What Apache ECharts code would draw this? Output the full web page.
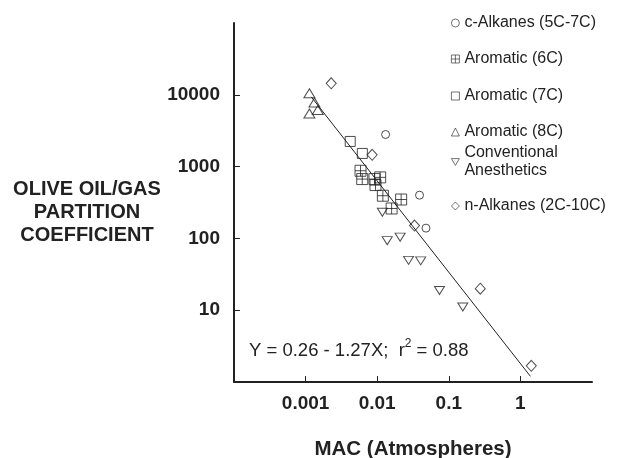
<!DOCTYPE html>
<html>
<head>
<meta charset="utf-8">
<script src="https://cdn.jsdelivr.net/npm/echarts@6/dist/echarts.min.js"></script>
<style>
  html, body { margin: 0; padding: 0; background: #fff; }
  #chart { width: 642px; height: 458px; }
</style>
</head>
<body>
<div id="chart"></div>
<script>
// data: [MAC (atm), olive oil/gas partition coefficient]
var cAlkanes = [[0.0131, 2800], [0.039, 400], [0.048, 139]]
var aromatic6C = [[0.00585, 875], [0.00618, 670], [0.00916, 670], [0.0110, 708],
  [0.00946, 553], [0.0120, 393], [0.0216, 348], [0.0159, 261]]
var aromatic7C = [[0.0042, 2240], [0.0062, 1525]]
var aromatic8C = [[0.00113, 10500], [0.00133, 7800], [0.00148, 6150], [0.00113, 5500]]
var anesthetics = [[0.0118, 231], [0.0138, 93], [0.0209, 104], [0.0274, 49.5],
  [0.0405, 48.7], [0.0741, 18.8], [0.157, 11.1]]
var nAlkanes = [[0.00228, 14450], [0.0085, 1460], [0.0332, 151], [0.275, 19.9], [1.42, 1.68]]
// regression line end points
var fitLine = [[0.0012, 9360], [1.38, 1.2]]

var xTicks = [0.001, 0.01, 0.1, 1]
var xTickLabels = ['0.001', '0.01', '0.1', '1']
var yTicks = [10, 100, 1000, 10000]
var yTickLabels = ['10', '100', '1000', '10000']

var groupNames = ['c-Alkanes (5C-7C)', 'Aromatic (6C)', 'Aromatic (7C)', 'Aromatic (8C)',
  'Conventional\nAnesthetics', 'n-Alkanes (2C-10C)']

var ink = '#222'
var font = 'Liberation Sans, Arial, Helvetica, sans-serif'

function tickText (v, ticks, labels) {
  var i = ticks.findIndex(function (t) { return Math.abs(Math.log10(t) - Math.log10(v)) < 1e-6 })
  return i >= 0 ? labels[i] : ''
}

var symbols = [
  { symbol: 'circle', size: 8 },
  { symbol: 'path://M0,0H10V10H0Z M5,0V10 M0,5H10', size: 11 },
  { symbol: 'rect', size: 10 },
  { symbol: 'triangle', size: [11, 9] },
  { symbol: 'path://M0,0H10L5,8.5Z', size: [10, 8] },
  { symbol: 'diamond', size: [10, 11] }
]
var groups = [cAlkanes, aromatic6C, aromatic7C, aromatic8C, anesthetics, nAlkanes]

var series = groups.map(function (d, i) {
  return {
    name: groupNames[i],
    type: 'scatter',
    data: d,
    symbol: symbols[i].symbol,
    symbolSize: symbols[i].size,
    itemStyle: { color: 'rgba(255,255,255,0)', borderColor: ink, borderWidth: 1 },
    z: 3
  }
})
series.push({
  name: 'fit',
  type: 'line',
  data: fitLine,
  symbol: 'none',
  lineStyle: { color: ink, width: 1 },
  silent: true,
  z: 2
})

// one legend per entry so the uneven spacing of the figure can be kept
var legendTops = [14, 50, 87, 123, 144, 197]
var legends = groupNames.map(function (n, i) {
  return {
    data: [n],
    left: 451,
    top: legendTops[i],
    orient: 'vertical',
    padding: 0,
    itemWidth: 8,
    itemHeight: 8,
    selectedMode: false,
    itemStyle: { borderWidth: 0.8 },
    textStyle: { fontFamily: font, fontSize: 16, color: ink, lineHeight: 18, padding: [0, 0, 0, 0] }
  }
})

var myChart = echarts.init(document.getElementById('chart'))
myChart.setOption({
  backgroundColor: '#fff',
  animation: false,
  legend: legends,
  grid: { left: 234, right: 50, top: 23, bottom: 76, outerBoundsMode: 'none' },
  xAxis: {
    type: 'log',
    logBase: 10,
    min: 0.0001,
    max: 10,
    name: 'MAC (Atmospheres)',
    nameLocation: 'middle',
    nameGap: 57,
    nameTextStyle: { fontFamily: font, fontSize: 20.5, fontWeight: 'bold', color: ink },
    axisLine: { lineStyle: { color: ink, width: 2 } },
    axisTick: { inside: true, length: 6, lineStyle: { color: ink, width: 1 } },
    axisLabel: {
      showMinLabel: false,
      showMaxLabel: false,
      margin: 12,
      fontFamily: font,
      fontSize: 19,
      fontWeight: 'bold',
      color: ink,
      formatter: function (v) { return tickText(v, xTicks, xTickLabels) }
    },
    splitLine: { show: false }
  },
  yAxis: {
    type: 'log',
    logBase: 10,
    min: 1,
    max: 100000,
    axisLine: { show: true, lineStyle: { color: ink, width: 2 } },
    axisTick: { show: true, inside: true, length: 6, lineStyle: { color: ink, width: 1 } },
    axisLabel: {
      showMinLabel: false,
      showMaxLabel: false,
      margin: 14,
      fontFamily: font,
      fontSize: 19,
      fontWeight: 'bold',
      color: ink,
      formatter: function (v) { return tickText(v, yTicks, yTickLabels) }
    },
    splitLine: { show: false }
  },
  graphic: [
    {
      type: 'text',
      style: {
        x: 87,
        y: 212,
        text: 'OLIVE OIL/GAS\nPARTITION\nCOEFFICIENT',
        align: 'center',
        verticalAlign: 'middle',
        fontFamily: font,
        fontSize: 20,
        fontWeight: 'bold',
        lineHeight: 23,
        fill: ink
      }
    },
    {
      type: 'text',
      style: {
        x: 249,
        y: 351,
        text: 'Y = 0.26 - 1.27X;  r{sup|2} = 0.88',
        verticalAlign: 'middle',
        fontFamily: font,
        fontSize: 18.5,
        fill: ink,
        rich: {
          sup: { fontFamily: font, fontSize: 12, fill: ink, verticalAlign: 'top', lineHeight: 27 }
        }
      }
    }
  ],
  series: series
})
</script>
</body>
</html>
